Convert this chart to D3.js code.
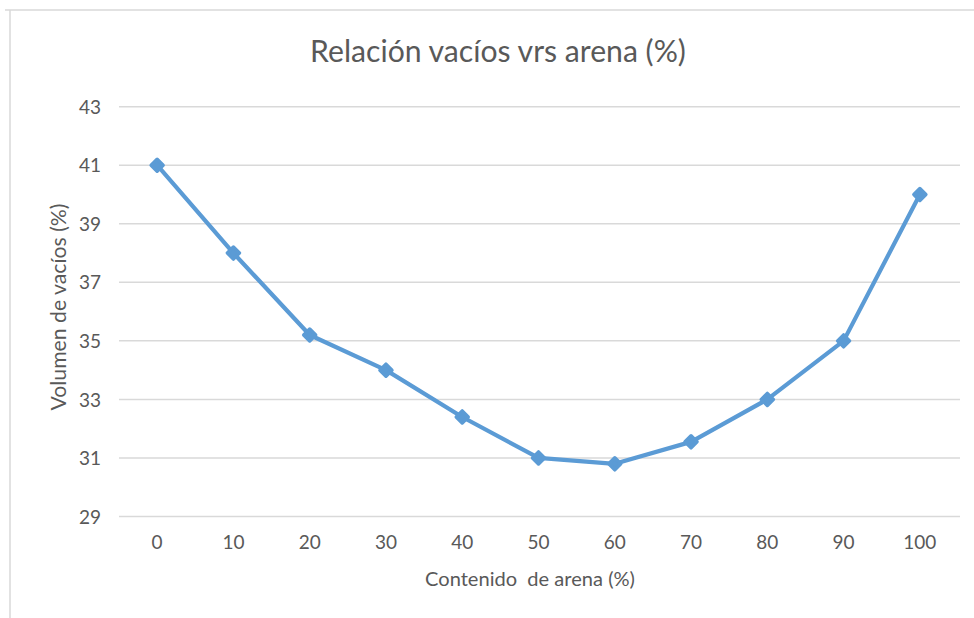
<!DOCTYPE html>
<html>
<head>
<meta charset="utf-8">
<script src="https://cdn.jsdelivr.net/npm/d3@7"></script>
<style>
  html, body { margin: 0; padding: 0; background: #fff; }
  svg { display: block; }
  text { font-family: Lato, "Open Sans", sans-serif; fill: #595959; }
</style>
</head>
<body>
<svg id="chart" width="974" height="618"></svg>
<script>
// Contenido de arena (%) y volumen de vacíos (%)
const categories = ["0", "10", "20", "30", "40", "50", "60", "70", "80", "90", "100"];
const vacios = [41, 38, 35.2, 34, 32.4, 31, 30.8, 31.55, 33, 35, 40];
const yTicks = [29, 31, 33, 35, 37, 39, 41, 43];

const title = "Relación vacíos vrs arena (%)";
const xTitle = "Contenido  de arena (%)";
const yTitle = "Volumen de vacíos (%)";

const W = 974, H = 618;
const svg = d3.select("#chart");

// chart area frame (light border along top and left)
svg.append("line").attr("x1", 5).attr("x2", W).attr("y1", 10).attr("y2", 10)
  .attr("stroke", "#d9d9d9").attr("stroke-width", 1.5);
svg.append("line").attr("x1", 10).attr("x2", 10).attr("y1", 10).attr("y2", H)
  .attr("stroke", "#d9d9d9").attr("stroke-width", 1.5);

const x = d3.scaleBand().domain(categories).range([119, 958]);
const y = d3.scaleLinear().domain([29, 43]).range([516.5, 106.7]);

// horizontal gridlines
svg.append("g").selectAll("line").data(yTicks).join("line")
  .attr("x1", 119).attr("x2", 960)
  .attr("y1", d => y(d)).attr("y2", d => y(d))
  .attr("stroke", "#d9d9d9").attr("stroke-width", 1.5);

// y axis
const yAxis = svg.append("g").attr("transform", "translate(101,0)")
  .call(d3.axisLeft(y).tickValues(yTicks).tickSize(0).tickPadding(0));
yAxis.select(".domain").remove();
yAxis.selectAll("text").attr("font-size", 19).attr("dy", "0.35em")
  .style("font-family", "Lato, 'Open Sans', sans-serif").attr("fill", "#626262");

// x axis
const xAxis = svg.append("g").attr("transform", "translate(0,533)")
  .call(d3.axisBottom(x).tickSize(0).tickPadding(0));
xAxis.select(".domain").remove();
xAxis.selectAll("text").attr("font-size", 19).attr("dy", "0.85em")
  .style("font-family", "Lato, 'Open Sans', sans-serif").attr("fill", "#626262");

// series line
const cx = (d, i) => x(categories[i]) + x.bandwidth() / 2;
const line = d3.line().x(cx).y(d => y(d));
svg.append("path").datum(vacios)
  .attr("d", line).attr("fill", "none")
  .attr("stroke", "#5b9bd5").attr("stroke-width", 4.2)
  .attr("stroke-linejoin", "round").attr("stroke-linecap", "round");

// diamond markers (square turned 45°, rounded corners)
svg.append("g").selectAll("path").data(vacios).join("path")
  .attr("d", d3.symbol(d3.symbolSquare, 72))
  .attr("transform", (d, i) => `translate(${cx(d, i)},${y(d)}) rotate(45)`)
  .attr("fill", "#5b9bd5").attr("stroke", "#5b9bd5")
  .attr("stroke-width", 3.5).attr("stroke-linejoin", "round");

// fit a text element to a target width by adjusting its font size
function fit(sel, target, size) {
  sel.attr("font-size", size);
  const w = sel.node().getComputedTextLength();
  sel.attr("font-size", size * target / w);
}

const t = svg.append("text").attr("x", 498).attr("y", 62)
  .attr("text-anchor", "middle").attr("fill", "#626262").text(title);
fit(t, 376, 26);

const xt = svg.append("text").attr("x", 530).attr("y", 586)
  .attr("text-anchor", "middle").attr("fill", "#626262").text(xTitle).style("white-space", "pre");
fit(xt, 210, 18);

const yt = svg.append("text")
  .attr("transform", "translate(66,307) rotate(-90)")
  .attr("text-anchor", "middle").attr("fill", "#626262").text(yTitle);
fit(yt, 207, 18);
</script>
</body>
</html>
